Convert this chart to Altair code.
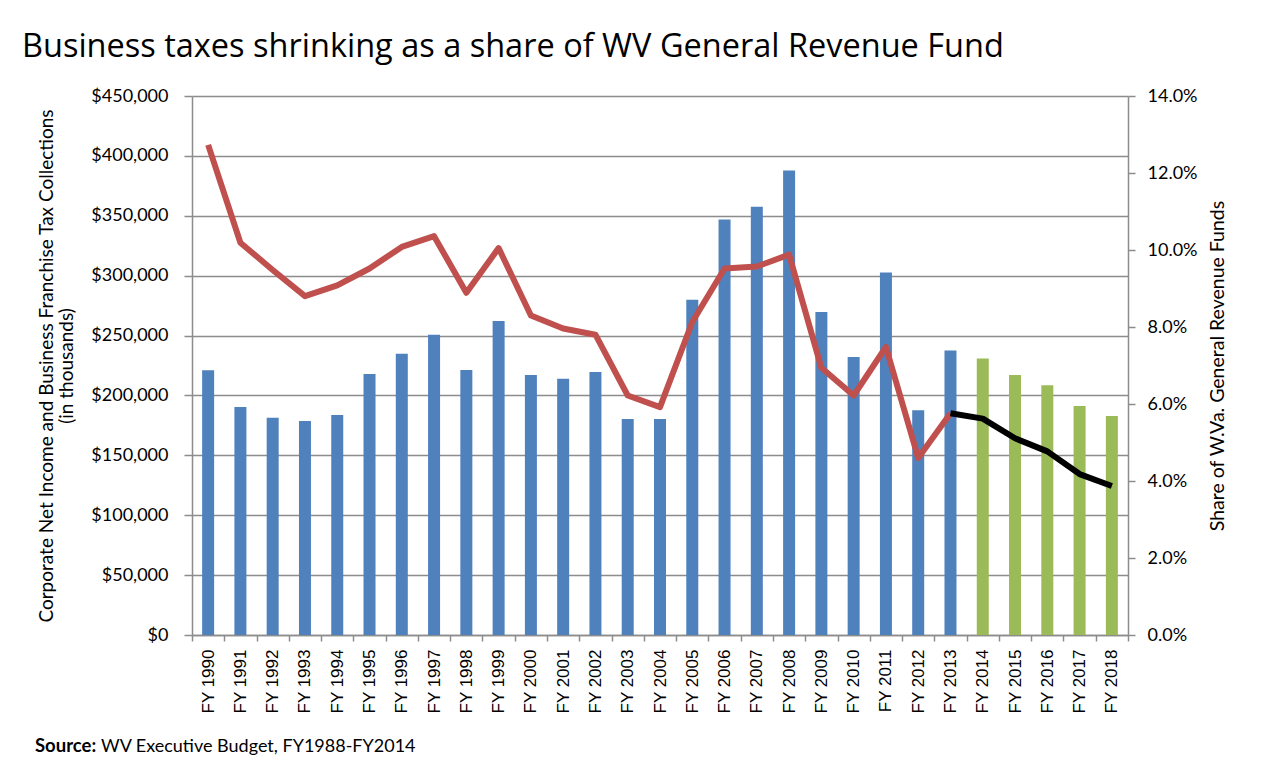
import altair as alt
import pandas as pd

years = ["FY 1990", "FY 1991", "FY 1992", "FY 1993", "FY 1994", "FY 1995", "FY 1996",
         "FY 1997", "FY 1998", "FY 1999", "FY 2000", "FY 2001", "FY 2002", "FY 2003",
         "FY 2004", "FY 2005", "FY 2006", "FY 2007", "FY 2008", "FY 2009", "FY 2010",
         "FY 2011", "FY 2012", "FY 2013", "FY 2014", "FY 2015", "FY 2016", "FY 2017",
         "FY 2018"]

collections = [221000, 190300, 181300, 178600, 183700, 218000, 234800, 250600, 221300,
               262200, 217100, 213900, 219500, 180400, 180400, 279900, 346800, 357500,
               387700, 269700, 232100, 302600, 187600, 237500, 230900, 217100, 208500,
               191200, 182800]

bar_period = ["actual"] * 24 + ["projected"] * 5

actual_years = years[:24]
share_actual = [0.1273, 0.1019, 0.0948, 0.0880, 0.0908, 0.0952, 0.1008, 0.1036, 0.0889,
                0.1005, 0.0830, 0.0796, 0.0780, 0.0622, 0.0592, 0.0813, 0.0952, 0.0957,
                0.0988, 0.0694, 0.0622, 0.0748, 0.0460, 0.0576]

projected_years = years[23:]
share_projected = [0.0576, 0.0562, 0.0511, 0.0477, 0.0418, 0.0387]

title_text = "Business taxes shrinking as a share of WV General Revenue Fund"
source_bold = "Source:"
source_rest = "WV Executive Budget, FY1988-FY2014"

left_title = ["Corporate Net Income and Business Franchise Tax Collections", "(in thousands)"]
right_title = "Share of W.Va. General Revenue Funds"

bars_df = pd.DataFrame({"year": years, "collections": collections, "period": bar_period})
lines_df = pd.concat([
    pd.DataFrame({"year": actual_years, "share": share_actual, "series": "actual"}),
    pd.DataFrame({"year": projected_years, "share": share_projected, "series": "projected"}),
])

GRID = "#8c8c8c"
FONT = "Lato"

x_enc = alt.X("year:N", sort=years,
              scale=alt.Scale(paddingInner=0, paddingOuter=0),
              axis=alt.Axis(title=None, labelAngle=-90, labelFont="Liberation Sans",
                            labelFontSize=17, labelColor="#000", tickBand="extent",
                            tickSize=6, labelPadding=8, domainColor=GRID, tickColor=GRID,
                            domainWidth=1.5, tickWidth=1.5))

bars = alt.Chart(bars_df).mark_bar(size=12).encode(
    x=x_enc,
    y=alt.Y("collections:Q", scale=alt.Scale(domain=[0, 450000]),
            axis=alt.Axis(values=list(range(0, 450001, 50000)), format="$,.0f",
                          title=left_title, titleFont=FONT, titleFontSize=19,
                          titleFontWeight="normal", titleColor="#000", titleLineHeight=20,
                          titlePadding=14, labelFont=FONT, labelFontSize=18,
                          labelColor="#000", labelPadding=16, tickSize=8,
                          grid=True, gridColor=GRID, gridWidth=1.5,
                          domainColor=GRID, tickColor=GRID, domainWidth=1.5, tickWidth=1.5)),
    color=alt.Color("period:N", scale=alt.Scale(domain=["actual", "projected"],
                                                range=["#4F81BD", "#9BBB59"]), legend=None),
)

lines = alt.Chart(lines_df).mark_line(strokeWidth=6, strokeJoin="round").encode(
    x=alt.X("year:N", sort=years),
    y=alt.Y("share:Q", scale=alt.Scale(domain=[0, 0.14]),
            axis=alt.Axis(orient="right", values=[0, 0.02, 0.04, 0.06, 0.08, 0.10, 0.12, 0.14],
                          format=".1%", title=right_title, titleAngle=-90, titleFont=FONT,
                          titleFontSize=19.5, titleFontWeight="normal", titleColor="#000",
                          titlePadding=31, labelFont=FONT, labelFontSize=18,
                          labelColor="#000", labelPadding=12, tickSize=7, grid=False,
                          domainColor=GRID, tickColor=GRID, domainWidth=1.5, tickWidth=1.5)),
    color=alt.Color("series:N", scale=alt.Scale(domain=["actual", "projected"],
                                                range=["#C0504D", "#000000"]), legend=None),
)

title_layer = alt.Chart(pd.DataFrame({"t": [title_text]})).mark_text(
    align="left", baseline="alphabetic", font="Open Sans", fontSize=32.5, color="#000"
).encode(text="t:N", x=alt.value(-170), y=alt.value(-39))

src_bold = alt.Chart(pd.DataFrame({"t": [source_bold]})).mark_text(
    align="left", baseline="alphabetic", font=FONT, fontSize=18.5, fontWeight="bold", color="#000"
).encode(text="t:N", x=alt.value(-157), y=alt.value(656))

src_rest = alt.Chart(pd.DataFrame({"t": [source_rest]})).mark_text(
    align="left", baseline="alphabetic", font=FONT, fontSize=18, color="#000"
).encode(text="t:N", x=alt.value(-91), y=alt.value(656))

chart = alt.layer(bars, lines, title_layer, src_bold, src_rest).resolve_scale(
    y="independent", color="independent"
).properties(
    width=936, height=539,
    autosize=alt.AutoSizeParams(type="none"),
    padding={"left": 184, "top": 88, "right": 120, "bottom": 130},
).configure_view(stroke=None)

chart.save("out.html", embed_options={"renderer": "svg", "actions": False})
